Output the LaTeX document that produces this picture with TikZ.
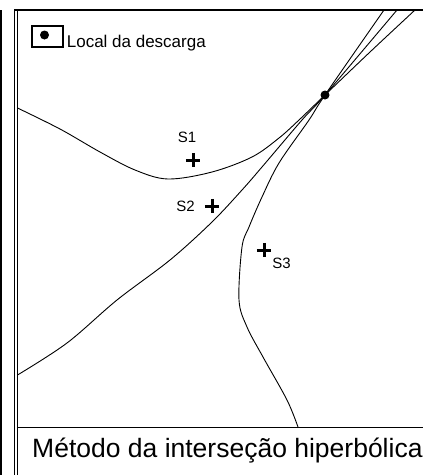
\documentclass[tikz,border=0pt]{standalone}
\usepackage{fontspec}
\setsansfont{Liberation Sans}
\usetikzlibrary{positioning}
\tikzset{sensor/.style={minimum size=14pt, inner sep=0pt},
  cruz/.style={line width=3pt},
  lbl/.style={inner sep=1pt, font=\sffamily\fontsize{15}{15}\selectfont},
  hyp/.style={line width=0.9pt, smooth, tension=0.55},
  frame/.style={line width=1.2pt}}

\begin{document}
\begin{tikzpicture}[x=1pt, y=-1pt, font=\sffamily]
  \useasboundingbox (0,0) rectangle (423,475);
  % frame
  \draw[line width=2pt] (1,10) -- (1,475);
  \draw[frame] (14.5,10) -- (14.5,475);
  \draw[frame] (17.5,10) -- (17.5,475);
  \draw[line width=2.4pt] (14,10) -- (423,10);
  \draw[line width=1pt] (17.5,427) -- (423,427);
  % legend
  \node[draw, line width=1.3pt, minimum width=31pt, minimum height=21pt, inner sep=0pt] (legbox) at (47.5,36.5) {};
  \node[circle, fill, minimum size=9pt, inner sep=0pt] (legdot) at (44.5,35) {};
  \node[right=3pt of legbox.south east, anchor=base west, inner sep=0pt,
    font=\sffamily\fontsize{17}{17}\selectfont] (legtxt) {Local da descarga};
  % hyperbolas
  \draw[hyp] plot coordinates {(17.5,108) (60,129) (100,152) (135,170) (168,179) (212,172)
    (252,157) (279,138) (299,120) (325,95) (370,52) (415,10)};
  \draw[hyp] plot coordinates {(17.5,375) (67,343) (117,300) (170,260) (212,222) (242,190)
    (262,167) (302,120) (325,95) (397,10)};
  \draw[hyp] plot coordinates {(384,10) (325,95) (309,120) (279,163) (262,197) (249,227)
    (242,247) (239,300) (247,327) (263,357) (287,400) (298,427)};
  % source and sensors
  \node[circle, fill, minimum size=9pt, inner sep=0pt] (descarga) at (325,95) {};
  \node[sensor] (s1) at (193,160) {};
  \node[sensor] (s2) at (212,206) {};
  \node[sensor] (s3) at (264,250) {};
  \foreach \n in {s1,s2,s3}{
    \draw[cruz] (\n.north) -- (\n.south);
    \draw[cruz] (\n.west) -- (\n.east);}
  \node[lbl, above=9pt of s1, xshift=-6pt] (l1) {S1};
  \node[lbl, left=9pt of s2] (l2) {S2};
  \node[lbl, below right=0pt of s3] (l3) {S3};
  % title
  \node[anchor=base west, inner sep=0pt, font=\sffamily\fontsize{26.5}{26.5}\selectfont] (titulo) at (32,457)
    {Método da interseção hiperbólica};
\end{tikzpicture}
\end{document}
